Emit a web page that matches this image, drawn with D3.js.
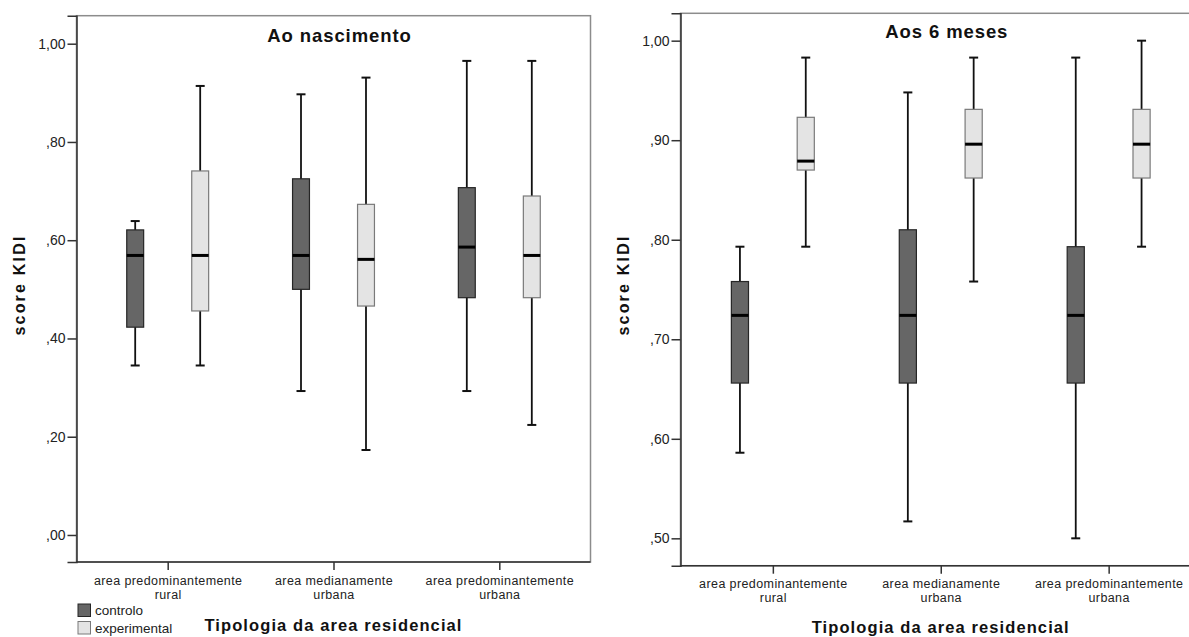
<!DOCTYPE html>
<html lang="pt">
<head>
<meta charset="utf-8">
<title>score KIDI por tipologia da area residencial</title>
<script src="https://d3js.org/d3.v7.min.js"></script>
<style>
    body { margin: 0; background: #fff; }
    svg { display: block; font-family: "Liberation Sans", Arial, sans-serif; }
    .tick-y { font-size: 14px; fill: #222; }
    .tick-x { font-size: 12.5px; fill: #222; letter-spacing: 0.4px; }
    .ptitle { font-size: 18.5px; font-weight: bold; letter-spacing: 0.9px; fill: #111; }
    .axtitle { font-size: 16.5px; font-weight: bold; letter-spacing: 1.1px; fill: #111; }
    .ylab { font-size: 16px; font-weight: bold; letter-spacing: 2.2px; fill: #111; }
    .leg { font-size: 13.5px; fill: #222; }
</style>
</head>
<body>
<div id="chart"></div>
<script>
// categories (x axis) and groups
var categories = [
    ["area predominantemente", "rural"],
    ["area medianamente", "urbana"],
    ["area predominantemente", "urbana"]
];
var series = ["controlo", "experimental"];

// box values per category: [whisker low, Q1, median, Q3, whisker high]
var nascControlo = [
    [0.345, 0.423, 0.569, 0.621, 0.639],
    [0.293, 0.500, 0.569, 0.725, 0.897],
    [0.293, 0.483, 0.586, 0.707, 0.965]
];
var nascExperimental = [
    [0.345, 0.456, 0.569, 0.741, 0.914],
    [0.173, 0.466, 0.561, 0.673, 0.931],
    [0.224, 0.483, 0.569, 0.690, 0.965]
];
var mesesControlo = [
    [0.586, 0.656, 0.724, 0.758, 0.793],
    [0.517, 0.656, 0.724, 0.810, 0.948],
    [0.500, 0.656, 0.724, 0.793, 0.983]
];
var mesesExperimental = [
    [0.793, 0.870, 0.879, 0.923, 0.983],
    [0.758, 0.862, 0.896, 0.931, 0.983],
    [0.793, 0.862, 0.896, 0.931, 1.000]
];

var nascTicks = [0, 0.2, 0.4, 0.6, 0.8, 1.0];
var mesesTicks = [0.5, 0.6, 0.7, 0.8, 0.9, 1.0];

var width = 1189, height = 637;
var colors = { controlo: "#666666", experimental: "#e4e4e4" };
var strokes = { controlo: "#262626", experimental: "#7a7a7a" };

var svg = d3.select("#chart").append("svg")
    .attr("width", width)
    .attr("height", height);

// ",80" style labels (no leading zero, comma decimal)
function fmt(v) {
    var s = d3.format(".2f")(v).replace(".", ",");
    return s.charAt(0) === "0" ? s.slice(1) : s;
}

function panel(opt) {
    var g = svg.append("g");

    var x = d3.scalePoint()
        .domain(d3.range(categories.length))
        .range([opt.left, opt.right])
        .padding(0.55);
    var step = x.step();
    var xs = d3.scalePoint()
        .domain(series)
        .range([-0.196 * step, 0.196 * step]);
    var boxW = 0.102 * step;

    var y = d3.scaleLinear()
        .domain(opt.domain)
        .range([opt.bottom, opt.top]);

    // frame
    g.append("rect")
        .attr("x", opt.left).attr("y", opt.top)
        .attr("width", opt.right - opt.left)
        .attr("height", opt.bottom - opt.top)
        .attr("fill", "none")
        .attr("stroke", "#8c8c8c")
        .attr("stroke-width", 1.5);

    // y axis
    var yAxis = d3.axisLeft(y).tickValues(opt.ticks).tickFormat(fmt)
        .tickSize(9).tickPadding(2);
    var ya = g.append("g")
        .attr("transform", "translate(" + opt.left + ",0)")
        .call(yAxis);
    ya.select(".domain").attr("stroke", "#333").attr("stroke-width", 1.5);
    ya.selectAll(".tick line").attr("stroke", "#333").attr("stroke-width", 1.5);
    ya.selectAll(".tick text").attr("class", "tick-y");
    ya.attr("font-size", null).attr("font-family", null);

    // x axis
    var xAxis = d3.axisBottom(x).tickSize(8).tickFormat("");
    var xa = g.append("g")
        .attr("transform", "translate(0," + opt.bottom + ")")
        .call(xAxis);
    xa.attr("font-size", null).attr("font-family", null);
    xa.select(".domain").attr("stroke", "#333").attr("stroke-width", 1.5)
        .attr("d", "M" + opt.left + ",0H" + opt.right);
    xa.selectAll(".tick line").attr("stroke", "#333").attr("stroke-width", 1.5);
    xa.selectAll(".tick").each(function(d) {
        var t = d3.select(this).append("text")
            .attr("class", "tick-x")
            .attr("text-anchor", "middle")
            .attr("fill", "#222");
        categories[d].forEach(function(line, i) {
            t.append("tspan").attr("x", 0)
                .attr("y", opt.labelY + i * 13.5)
                .text(line);
        });
    });

    // boxes
    opt.data.forEach(function(vals, si) {
        var s = series[si];
        var grp = g.append("g").selectAll("g")
            .data(vals)
            .join("g")
            .attr("transform", function(d, i) {
                return "translate(" + (x(i) + xs(s)) + ",0)";
            });
        grp.append("line")
            .attr("y1", function(d) { return y(d[0]); })
            .attr("y2", function(d) { return y(d[4]); })
            .attr("stroke", "#111").attr("stroke-width", 1.8);
        grp.selectAll(".cap")
            .data(function(d) { return [d[0], d[4]]; })
            .join("line")
            .attr("class", "cap")
            .attr("x1", -4.5).attr("x2", 4.5)
            .attr("y1", function(v) { return y(v); })
            .attr("y2", function(v) { return y(v); })
            .attr("stroke", "#111").attr("stroke-width", 2);
        grp.append("rect")
            .attr("x", -boxW / 2)
            .attr("width", boxW)
            .attr("y", function(d) { return y(d[3]); })
            .attr("height", function(d) { return y(d[1]) - y(d[3]); })
            .attr("fill", colors[s])
            .attr("stroke", strokes[s])
            .attr("stroke-width", 1.2);
        grp.append("line")
            .attr("x1", -boxW / 2).attr("x2", boxW / 2)
            .attr("y1", function(d) { return y(d[2]); })
            .attr("y2", function(d) { return y(d[2]); })
            .attr("stroke", "#000").attr("stroke-width", 3);
    });

    // titles
    var cx = (opt.left + opt.right) / 2;
    g.append("text").attr("class", "ptitle")
        .attr("x", cx + 6).attr("y", opt.titleY)
        .attr("text-anchor", "middle")
        .text(opt.title);
    g.append("text").attr("class", "axtitle")
        .attr("x", cx).attr("y", opt.xTitleY)
        .attr("text-anchor", "middle")
        .text("Tipologia da area residencial");
    g.append("text").attr("class", "ylab")
        .attr("transform", "translate(" + opt.yLabX + "," + opt.yLabY + ") rotate(-90)")
        .attr("text-anchor", "middle")
        .text("score KIDI");
}

panel({
    title: "Ao nascimento",
    left: 76.5, right: 590.5, top: 15.7, bottom: 562,
    domain: [-0.055, 1.057], ticks: nascTicks,
    data: [nascControlo, nascExperimental],
    titleY: 41.5, labelY: 23, xTitleY: 631,
    yLabX: 25, yLabY: 285
});

panel({
    title: "Aos 6 meses",
    left: 680.5, right: 1201, top: 13.3, bottom: 565.7,
    domain: [0.4725, 1.0275], ticks: mesesTicks,
    data: [mesesControlo, mesesExperimental],
    titleY: 37.5, labelY: 22.5, xTitleY: 633,
    yLabX: 629, yLabY: 285
});

// legend (left panel)
var legend = svg.append("g").attr("transform", "translate(78,604)");
legend.selectAll("g")
    .data(series)
    .join("g")
    .attr("transform", function(d, i) { return "translate(0," + i * 17.5 + ")"; })
    .call(function(sel) {
        sel.append("rect")
            .attr("width", 12.5).attr("height", 12.5)
            .attr("fill", function(d) { return colors[d]; })
            .attr("stroke", function(d) { return strokes[d]; })
            .attr("stroke-width", 1);
        sel.append("text").attr("class", "leg")
            .attr("x", 17).attr("y", 11)
            .text(function(d) { return d; });
    });
</script>
</body>
</html>
